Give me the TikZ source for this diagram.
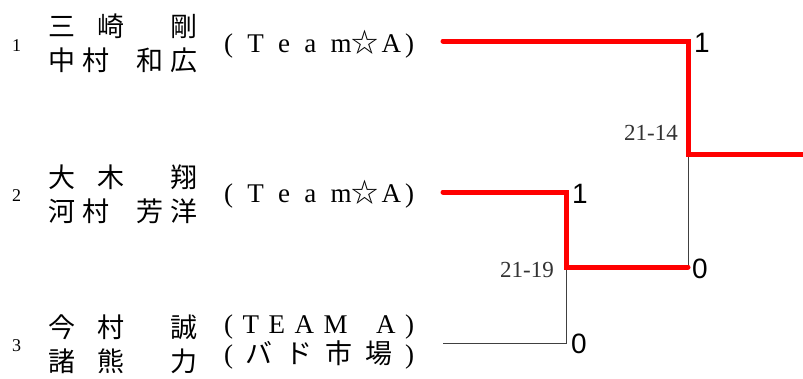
\documentclass[tikz,border=0pt]{standalone}
\usepackage{fontspec}
\setmainfont{Liberation Serif}
\newfontfamily\cjk{Noto Sans CJK JP}
\newfontfamily\scorefont{Liberation Sans}
\newcommand\namefill[1]{\makebox[149pt]{#1}}
\newcommand\teamfill[1]{\makebox[190pt]{#1}}
\begin{document}
\begin{tikzpicture}[x=1pt,y=-1pt,
  win/.style={red,line width=5pt,line cap=round},
  lose/.style={black!75,line width=1pt},
  seed/.style={inner sep=0pt,anchor=base west,font=\fontsize{18}{18}\selectfont},
  player/.style={inner sep=0pt,anchor=base west,font=\cjk\fontsize{27}{27}\selectfont},
  team/.style={inner sep=0pt,anchor=base west,font=\fontsize{27}{27}\selectfont},
  games/.style={inner sep=0pt,anchor=base west,font=\scorefont\fontsize{28}{28}\selectfont},
  points/.style={inner sep=0pt,anchor=base east,text=black!80,font=\fontsize{23}{23}\selectfont}]
\useasboundingbox (0,0) rectangle (803,378);
% entries
\node[seed] (seed1) at (12,51) {1};
\node[player] (name1a) at (48,36) {\namefill{三\hfill 崎\hfill\hfill 剛}};
\node[player] (name1b) at (48,70.5) {\namefill{中\hfill 村\hfill\hfill\hfill\hfill 和\hfill 広}};
\node[team] (team1) at (224,52) {\teamfill{(\hfill T\hfill e\hfill a\hfill m{\cjk ☆}\hspace{3pt}A\hspace{4pt})}};
\node[seed] (seed2) at (12,201) {2};
\node[player] (name2a) at (48,187) {\namefill{大\hfill 木\hfill\hfill 翔}};
\node[player] (name2b) at (48,221) {\namefill{河\hfill 村\hfill\hfill\hfill\hfill 芳\hfill 洋}};
\node[team] (team2) at (224,202) {\teamfill{(\hfill T\hfill e\hfill a\hfill m{\cjk ☆}\hspace{3pt}A\hspace{4pt})}};
\node[seed] (seed3) at (12,351) {3};
\node[player] (name3a) at (48,337) {\namefill{今\hfill 村\hfill\hfill 誠}};
\node[player] (name3b) at (48,371) {\namefill{諸\hfill 熊\hfill\hfill 力}};
\node[team] (team3a) at (224,333) {\teamfill{(\hfill T\hfill E\hfill A\hfill M\hfill\hfill\hfill A\hfill)}};
\node[team] (team3b) at (224,363) {\teamfill{(\hfill{\cjk バ}\hfill{\cjk ド}\hfill{\cjk 市}\hfill{\cjk 場}\hfill)}};
% bracket
\coordinate (s1) at (443,41);
\coordinate (s2) at (443,192);
\coordinate (s3) at (443,343);
\coordinate (m1) at (566,267);
\coordinate (f1) at (688,154);
\coordinate (f2) at (688,267);
\coordinate (w) at (803,154);
\draw[lose] (s3) -| (m1);
\draw[lose] (f2) -- (f1);
\draw[win] (s2) -| (m1) -- (f2);
\draw[win] (s1) -| (f1) -- (w);
% results
\node[games] (g1) at (694,52) {1};
\node[games] (g2) at (572,203) {1};
\node[games] (g3) at (692,278) {0};
\node[games] (g4) at (571,353) {0};
\node[points] (p1) at (678,140) {21-14};
\node[points] (p2) at (554,277) {21-19};
\end{tikzpicture}
\end{document}
